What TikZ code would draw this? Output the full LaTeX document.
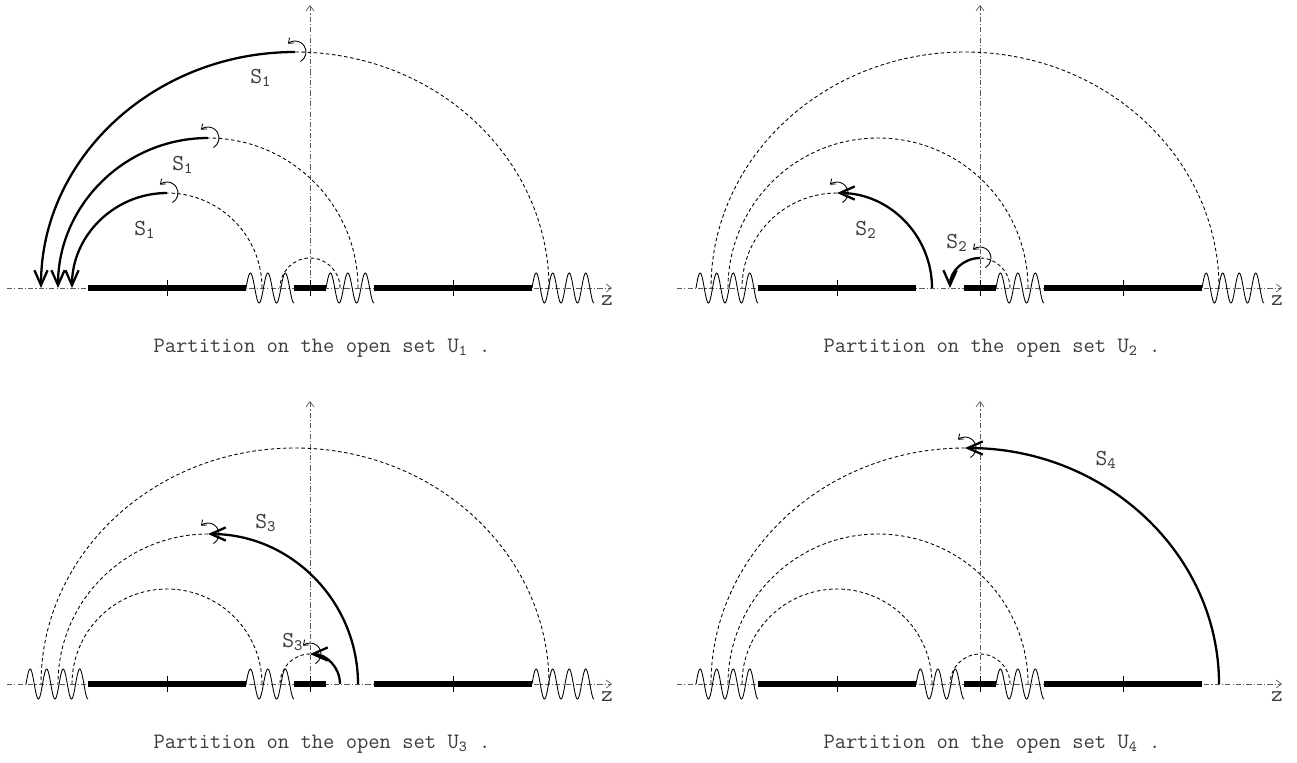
\documentclass[tikz,border=0pt]{standalone}
\usepackage{fontspec}
\usetikzlibrary{arrows.meta}

\begin{document}
\begin{tikzpicture}[x=0.02cm,y=0.02cm,font=\ttfamily]
  % Four copies of the same half plane; each scope is shifted so that its
  % origin is the point where the z axis meets the vertical axis.
  \definecolor{axisgray}{HTML}{5A5A5A}
  \definecolor{inkgray}{HTML}{3C3C3C}
  \useasboundingbox (0,0) rectangle (1297,-762);
  \tikzset{axis/.style={axisgray,line width=0.4pt,dash pattern=on 3pt off 1.2pt on 0.6pt off 1.2pt,-{Straight Barb[length=3pt,width=4.5pt]}},
           cut/.style={line width=3.4pt},
           tickmark/.style={line width=0.5pt},
           branch/.style={line width=0.5pt},
           guide/.style={line width=0.5pt,dash pattern=on 2pt off 1.5pt},
           route/.style={line width=1.3pt,-{Straight Barb[length=8.5pt,width=7.5pt]}},
           spin/.style={line width=0.5pt,-{Straight Barb[length=2.5pt,width=4pt]}},
           sheet/.style={text=inkgray,font=\ttfamily\fontsize{13}{15}\selectfont,inner sep=1pt},
           caption/.style={text=inkgray,font=\ttfamily\fontsize{12.5}{15}\selectfont,inner sep=1pt},
           pics/plane/.style={code={
             \draw[axis] (-303,0) -- (302,0);
             \draw[axis] (0,-8) -- (0,283);
             \draw[cut] (-222,0) -- (-64,0);
             \draw[cut] (-16,0) -- (16,0);
             \draw[cut] (64,0) -- (222,0);
             \draw[tickmark] (-143,-8) -- (-143,8) (0,-8) -- (0,8) (143,-8) -- (143,8);
             \node[sheet] (z) at (297,-13) {z};}},
           pics/wavelong/.style={code={\draw[branch] plot[domain=0:62,samples=91,smooth] ({\x},{15*sin(\x*21.774)});}},
           pics/waveshort/.style={code={\draw[branch] plot[domain=0:48,samples=67,smooth] ({\x},{15*sin(\x*20.625)});}},
           pics/spinarrow/.style={code={\draw[spin] (-60:11) arc[start angle=-60,end angle=130,radius=11];}}}

  \begin{scope}[shift={(310,-288)}]
    \pic (one) {plane};
    \pic at (-64,0) {waveshort};
    \pic at (16,0) {waveshort};
    \pic at (222,0) {wavelong};
    \draw[guide] (239,0) arc[start angle=0,end angle=90,x radius=254,y radius=236];
    \draw[route] (-15,236) arc[start angle=90,end angle=180,x radius=254,y radius=236];
    \draw[guide] (48,0) arc[start angle=0,end angle=90,radius=150];
    \draw[route] (-102,150) arc[start angle=90,end angle=180,radius=150];
    \draw[guide] (-48,0) arc[start angle=0,end angle=90,radius=95];
    \draw[route] (-143,95) arc[start angle=90,end angle=180,radius=95];
    \draw[guide] (30,0) arc[start angle=0,end angle=180,radius=30];
    \pic at (-15,236) {spinarrow};
    \pic at (-102,150) {spinarrow};
    \pic at (-143,95) {spinarrow};
    \node[sheet] (s1big) at (-49,210) {S\textsubscript{1}};
    \node[sheet] (s1mid) at (-127,123) {S\textsubscript{1}};
    \node[sheet] (s1small) at (-165,58) {S\textsubscript{1}};
    \node[caption] (cap1) at (12,-60) {Partition on the open set U\textsubscript{1} .};
  \end{scope}

  \begin{scope}[shift={(980,-288)}]
    \pic (two) {plane};
    \pic at (-284,0) {wavelong};
    \pic at (16,0) {waveshort};
    \pic at (222,0) {wavelong};
    \draw[guide] (239,0) arc[start angle=0,end angle=180,x radius=254,y radius=236];
    \draw[guide] (48,0) arc[start angle=0,end angle=180,radius=150];
    \draw[route] (-48,0) arc[start angle=0,end angle=90,radius=95];
    \draw[guide] (-143,95) arc[start angle=90,end angle=180,radius=95];
    \draw[guide] (30,0) arc[start angle=0,end angle=90,radius=30];
    \draw[route] (0,30) arc[start angle=90,end angle=180,radius=30];
    \pic at (-143,95) {spinarrow};
    \pic at (0,30) {spinarrow};
    \node[sheet] (s2small) at (-114,58) {S\textsubscript{2}};
    \node[sheet] (s2tiny) at (-23,45) {S\textsubscript{2}};
    \node[caption] (cap2) at (12,-60) {Partition on the open set U\textsubscript{2} .};
  \end{scope}

  \begin{scope}[shift={(310,-684)}]
    \pic (three) {plane};
    \pic at (-284,0) {wavelong};
    \pic at (-64,0) {waveshort};
    \pic at (222,0) {wavelong};
    \draw[guide] (239,0) arc[start angle=0,end angle=180,x radius=254,y radius=236];
    \draw[route] (48,0) arc[start angle=0,end angle=90,radius=150];
    \draw[guide] (-102,150) arc[start angle=90,end angle=180,radius=150];
    \draw[guide] (-48,0) arc[start angle=0,end angle=180,radius=95];
    \draw[route] (30,0) arc[start angle=0,end angle=90,radius=30];
    \draw[guide] (0,30) arc[start angle=90,end angle=180,radius=30];
    \pic at (-102,150) {spinarrow};
    \pic at (0,30) {spinarrow};
    \node[sheet] (s3mid) at (-44,161) {S\textsubscript{3}};
    \node[sheet] (s3tiny) at (-17,42) {S\textsubscript{3}};
    \node[caption] (cap3) at (12,-60) {Partition on the open set U\textsubscript{3} .};
  \end{scope}

  \begin{scope}[shift={(980,-684)}]
    \pic (four) {plane};
    \pic at (-284,0) {wavelong};
    \pic at (-64,0) {waveshort};
    \pic at (16,0) {waveshort};
    \draw[route] (239,0) arc[start angle=0,end angle=90,x radius=254,y radius=236];
    \draw[guide] (-15,236) arc[start angle=90,end angle=180,x radius=254,y radius=236];
    \draw[guide] (48,0) arc[start angle=0,end angle=180,radius=150];
    \draw[guide] (-48,0) arc[start angle=0,end angle=180,radius=95];
    \draw[guide] (30,0) arc[start angle=0,end angle=180,radius=30];
    \pic at (-15,236) {spinarrow};
    \node[sheet] (s4big) at (126,224) {S\textsubscript{4}};
    \node[caption] (cap4) at (12,-60) {Partition on the open set U\textsubscript{4} .};
  \end{scope}
\end{tikzpicture}
\end{document}
